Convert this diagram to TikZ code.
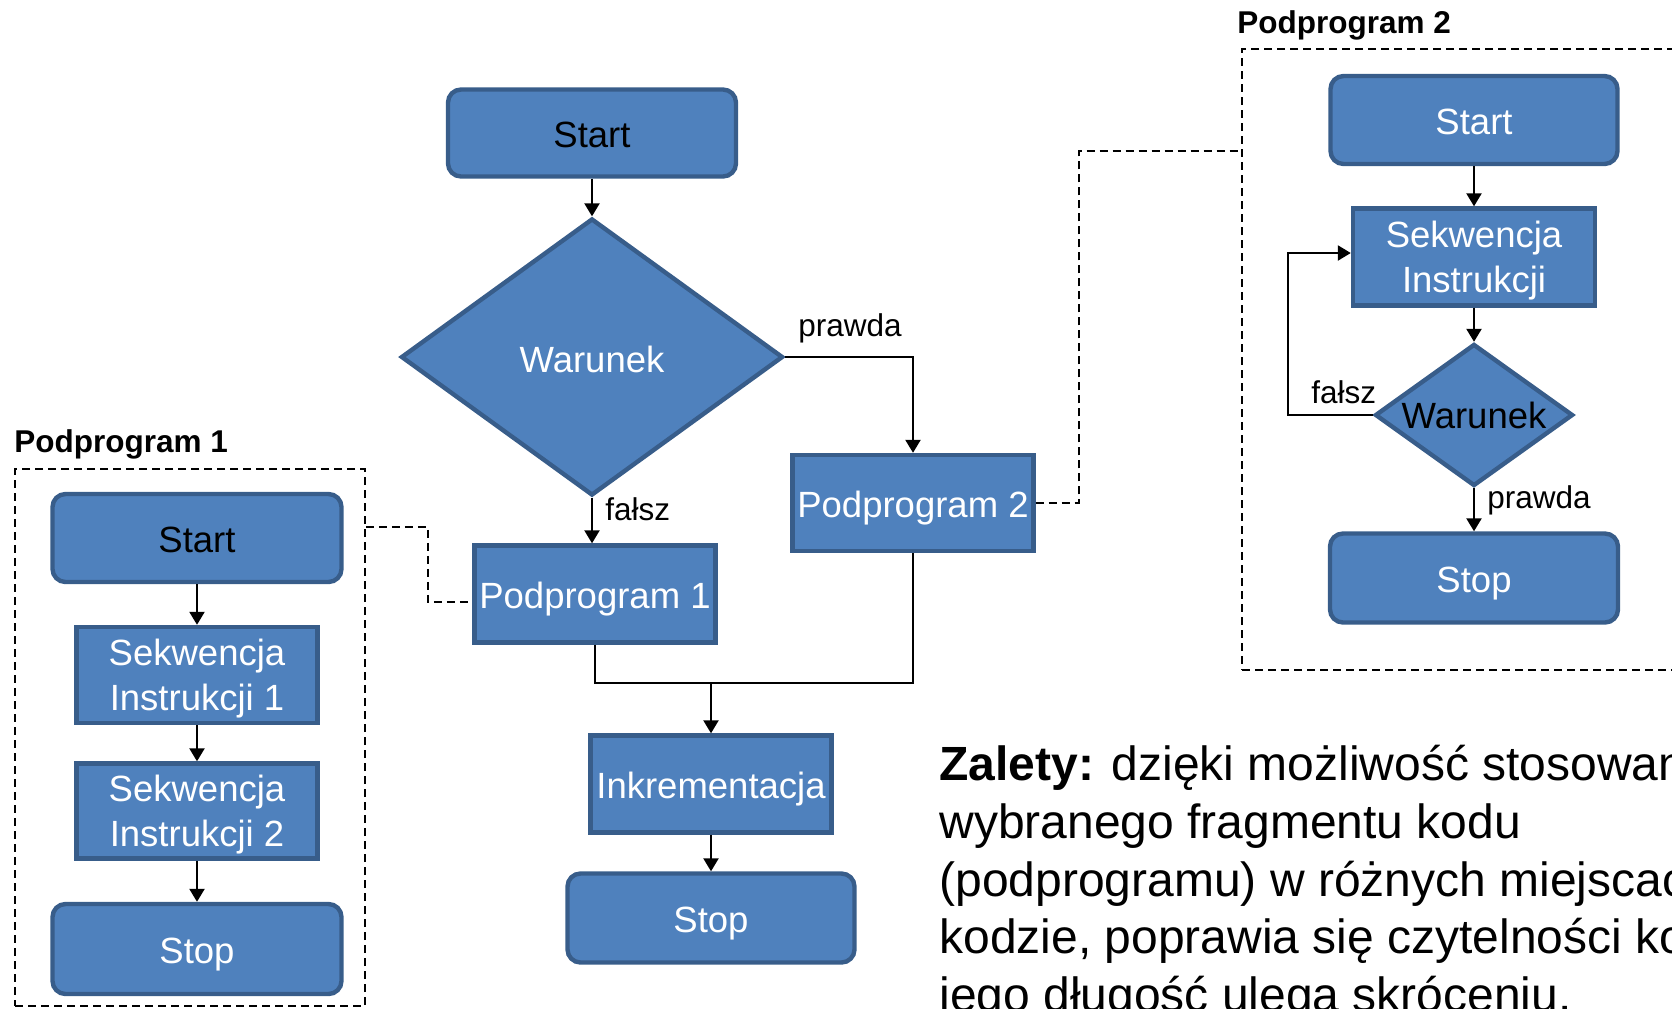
\documentclass[tikz,border=0pt]{standalone}
\usepackage{fontspec}
\setmainfont{Liberation Sans}
\usetikzlibrary{shapes.geometric,arrows.meta}
\definecolor{boxfill}{HTML}{4F81BD}
\definecolor{boxedge}{HTML}{385D8A}
\begin{document}
\begin{tikzpicture}[x=0.5pt,y=-0.5pt,
  blk/.style={draw=boxedge, fill=boxfill, line width=2.2pt, inner sep=1pt, align=center,
    font=\fontsize{18.25pt}{22.5pt}\selectfont, text=white},
  oneline/.style={text height=14.5pt, text depth=0pt},
  twoline/.style={text depth=0pt},
  rbox/.style={blk, oneline, rounded corners=6.5pt},
  sbox/.style={blk},
  dbox/.style={blk, diamond, inner sep=0pt},
  gbox/.style={draw, line width=0.85pt, dash pattern=on 4pt off 2.5pt, inner sep=0pt},
  flow/.style={line width=1.15pt, -{Triangle[length=6.5pt,width=7.5pt]}},
  joinline/.style={line width=1.15pt},
  dashlink/.style={line width=0.85pt, dash pattern=on 4pt off 2.5pt},
  lbl/.style={font=\fontsize{15.75pt}{18pt}\selectfont, inner sep=0pt},
  ttl/.style={font=\bfseries\fontsize{15.75pt}{18pt}\selectfont, inner sep=0pt},
  body/.style={font=\fontsize{24pt}{28pt}\selectfont, inner sep=0pt}
]
\useasboundingbox (0,0) rectangle (1672,1008);
\clip (0,0) rectangle (1672,1008);

% ---- main flow ----
\node[rbox, text=black, minimum width=144pt, minimum height=43.5pt] (s0) at (592,133) {Start};
\node[dbox, text height=15.3pt, aspect=1.38, minimum width=191pt, minimum height=138.5pt] (d0) at (592,357) {Warunek};
\node[sbox, oneline, minimum width=120.5pt, minimum height=48pt] (p2) at (913,503) {Podprogram 2};
\node[sbox, oneline, minimum width=120.5pt, minimum height=48.5pt] (p1) at (595,594) {Podprogram 1};
\node[sbox, oneline, minimum width=120.5pt, minimum height=48.5pt] (ink) at (711,784) {Inkrementacja};
\node[rbox, minimum width=143.5pt, minimum height=44.5pt] (e0) at (711,918) {Stop};

\node[lbl, anchor=base west] (l1) at (798,336) {prawda};
\node[lbl, anchor=base west] (l2) at (605,520) {fałsz};

\draw[flow] (s0.south) -- (d0.north);
\draw[flow] (d0.east) -| (p2.north);
\draw[flow] (d0.south) -- (d0.south |- p1.north);
\coordinate (m) at (711,683);
\draw[joinline] (p1.south) |- (p2.south |- m) -- (p2.south);
\draw[flow] (m) -- (ink.north);
\draw[flow] (ink.south) -- (e0.north);

% ---- subprogram 1 ----
\node[ttl, anchor=base west] (t1) at (14,452) {Podprogram 1};
\node[gbox, minimum width=175pt, minimum height=268.5pt] (g1) at (190,737.5) {};
\node[rbox, text=black, minimum width=144.5pt, minimum height=44pt] (a0) at (197,538) {Start};
\node[sbox, twoline, minimum width=120.5pt, minimum height=48pt] (a1) at (197,675) {Sekwencja\\Instrukcji 1};
\node[sbox, twoline, minimum width=120.5pt, minimum height=47.5pt] (a2) at (197,811) {Sekwencja\\Instrukcji 2};
\node[rbox, minimum width=144.5pt, minimum height=45pt] (a3) at (197,949) {Stop};
\draw[flow] (a0.south) -- (a1.north);
\draw[flow] (a1.south) -- (a2.north);
\draw[flow] (a2.south) -- (a3.north);

\coordinate (k1) at (428,527);
\draw[dashlink] (g1.east |- k1) -- (k1) |- ([yshift=-4pt]p1.west);

% ---- subprogram 2 ----
\node[ttl, anchor=base west] (t2) at (1237,33) {Podprogram 2};
\node[gbox, minimum width=239pt, minimum height=310.5pt] (g2) at (1481,359.5) {};
\node[rbox, minimum width=143.5pt, minimum height=44pt] (b0) at (1474,120) {Start};
\node[sbox, twoline, minimum width=121pt, minimum height=48.5pt] (b1) at (1474,257) {Sekwencja\\Instrukcji};
\node[dbox, text=black, aspect=1.39, minimum width=99pt, minimum height=71pt] (b2) at (1474,415) {Warunek};
\node[rbox, minimum width=144pt, minimum height=44.5pt] (b3) at (1474,578) {Stop};

\node[lbl, anchor=base west] (l3) at (1311,403) {fałsz};
\node[lbl, anchor=base west] (l4) at (1487,508) {prawda};

\draw[flow] (b0.south) -- (b1.north);
\draw[flow] (b1.south) -- (b2.north);
\draw[flow] (b2.south) -- (b3.north);
\coordinate (k3) at (1288,253);
\draw[flow] (b2.west) -| (k3) -- (b1.west |- k3);

\coordinate (k2) at (1079,151);
\draw[dashlink] (p2.east) -| (k2) -- (g2.west |- k2);

% ---- note ----
\node[body, anchor=base west] (z1) at (939,780) {\textbf{Zalety:} dzięki możliwość stosowania};
\node[body, anchor=base west] (z2) at (939,838) {wybranego fragmentu kodu};
\node[body, anchor=base west] (z3) at (939,896) {(podprogramu) w różnych miejscach w};
\node[body, anchor=base west] (z4) at (939,953) {kodzie, poprawia się czytelności kodu, a};
\node[body, anchor=base west] (z5) at (939,1011) {jego długość ulega skróceniu.};
\end{tikzpicture}
\end{document}
